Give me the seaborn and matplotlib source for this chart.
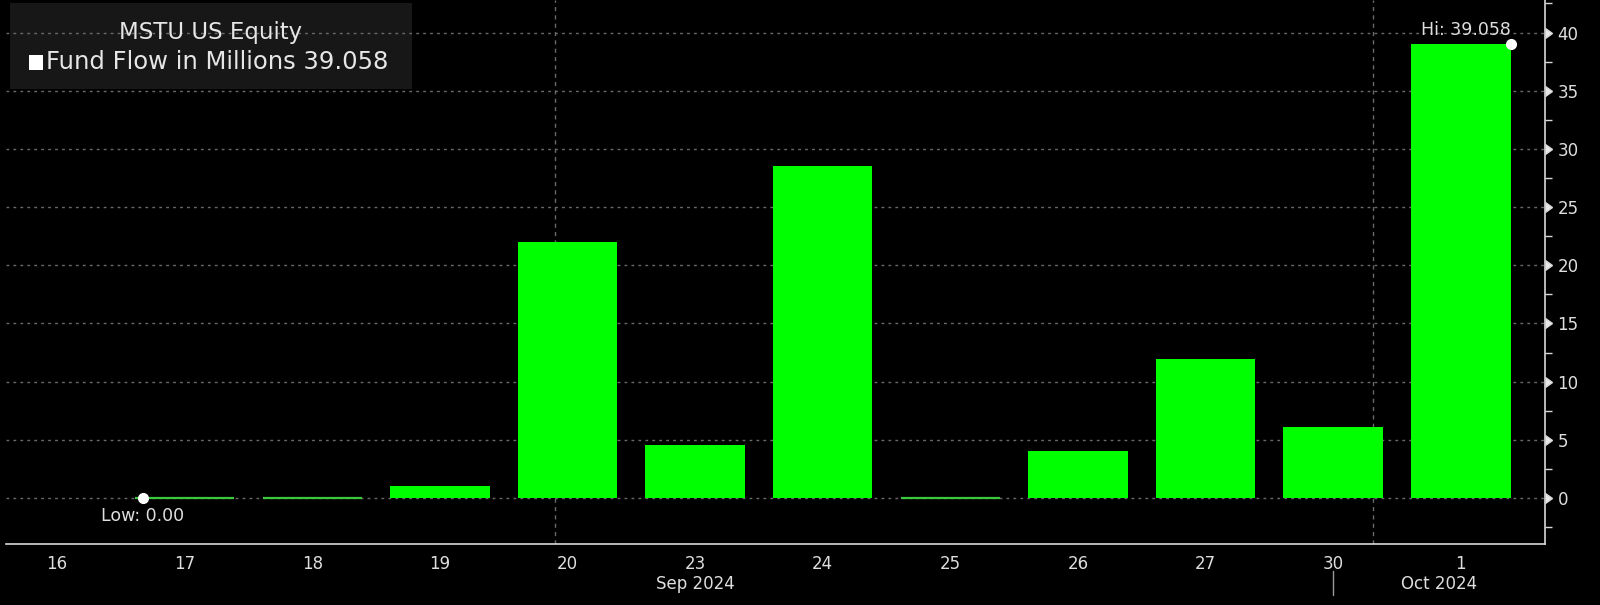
import numpy as np
import pandas as pd
import seaborn as sns
import matplotlib.pyplot as plt
import matplotlib.markers as mmarkers
from matplotlib.patches import Rectangle

# ---------------- data ----------------
tick_labels = ["16", "17", "18", "19", "20", "23", "24", "25", "26", "27", "30", "1"]
bar_dates = ["17", "18", "19", "20", "23", "24", "25", "26", "27", "30", "1"]
flows = [0.0, 0.0, 1.0, 22.0, 4.55, 28.55, 0.0, 4.0, 11.92, 6.07, 39.058]
month_labels = ["Sep 2024", "Oct 2024"]
month_label_dates = ["23", "1"]
title_text = "MSTU US Equity"
series_name = "Fund Flow in Millions"
y_major = [0, 5, 10, 15, 20, 25, 30, 35, 40]

# ---------------- style ----------------
sns.set_theme(style="dark", rc={
    "figure.facecolor": "black",
    "axes.facecolor": "black",
    "savefig.facecolor": "black",
})
plt.rcParams["font.family"] = ["DejaVu Sans"]

GREEN = "#00ff00"
TXT = "#dedede"
GRID = "#6a6a6a"
BAR_W = 0.78

fig = plt.figure(figsize=(16, 6.05), dpi=100)
ax = fig.add_axes([6 / 1600, 1 - 544 / 605, (1545 - 6) / 1600, 544 / 605])

pos = [tick_labels.index(d) for d in bar_dates]
df = pd.DataFrame({"pos": pos, "flow": flows})
sns.barplot(data=df, x="pos", y="flow", native_scale=True, width=BAR_W,
            color=GREEN, saturation=1, ax=ax, zorder=3, linewidth=0)
for p in ax.patches:
    if abs(p.get_height()) < 1e-9:
        p.set_edgecolor("#3cc83c")
        p.set_linewidth(1.6)

ax.set_xlim(-0.40, 11.66)
ax.set_ylim(-3.95, 42.8)
ax.set_xlabel("")
ax.set_ylabel("")

# grid
ax.set_axisbelow(True)
ax.set_yticks(y_major)
ax.set_yticks(np.arange(-2.5, 43, 5), minor=True)
ax.yaxis.grid(True, which="major", color=GRID, linestyle=(0, (2, 3)), linewidth=1)
ax.xaxis.grid(False)
for xv in (3.9, 10.31):
    ax.axvline(xv, color=GRID, linestyle=(0, (3, 3)), linewidth=1, zorder=1)

# axes / ticks
ax.yaxis.tick_right()
for s in ("left", "top"):
    ax.spines[s].set_visible(False)
for s in ("right", "bottom"):
    ax.spines[s].set_visible(True)
    ax.spines[s].set_color("#d8d8d8")
    ax.spines[s].set_linewidth(1.2)

ax.set_xticks(range(len(tick_labels)), tick_labels)
ax.tick_params(axis="x", which="major", direction="in", length=4, width=1,
               colors="#d8d8d8", labelcolor=TXT, labelsize=12, pad=8)
ax.tick_params(axis="y", which="major", length=6, width=1, colors="#d8d8d8",
               labelcolor=TXT, labelsize=12, pad=3, right=True, left=False)
ax.tick_params(axis="y", which="minor", length=5, width=1, colors="#d8d8d8",
               direction="out", right=True, left=False)
for t in ax.yaxis.get_major_ticks():
    t.tick2line.set_marker(mmarkers.CARETRIGHTBASE)
    t.tick2line.set_markersize(7)
    t.tick2line.set_color("#e8e8e8")

# month labels and separator
xtr = ax.get_xaxis_transform()
for lab, d in zip(month_labels, month_label_dates):
    xi = tick_labels.index(d)
    if d == "1":
        xi -= 0.17
    ax.text(xi, -40 / 544, lab, transform=xtr, ha="center", va="center",
            fontsize=12, color=TXT, clip_on=False)
ax.plot([tick_labels.index("30")] * 2, [-27 / 544, -51 / 544], transform=xtr,
        color="#9a9a9a", linewidth=1, clip_on=False)

# Hi / Low markers
i_hi = int(np.argmax(flows))
i_lo = int(np.argmin(flows))
x_hi = pos[i_hi] + BAR_W / 2
x_lo = pos[i_lo] - BAR_W / 2 + 0.06
ax.plot([x_hi], [flows[i_hi]], "o", color="white", markersize=7, zorder=6, clip_on=False)
ax.plot([x_lo], [flows[i_lo]], "o", color="white", markersize=7, zorder=6, clip_on=False)
ax.annotate(f"Hi: {flows[i_hi]:.3f}", (x_hi, flows[i_hi]), xytext=(0, 10),
            textcoords="offset points", ha="right", va="center", fontsize=12.5,
            color=TXT, zorder=7)
ax.annotate(f"Low: {flows[i_lo]:.2f}", (x_lo, flows[i_lo]), xytext=(0, -13),
            textcoords="offset points", ha="center", va="center", fontsize=12.5,
            color=TXT, zorder=7)

# legend box
box = Rectangle((10 / 1600, 1 - 89 / 605), 402 / 1600, 86 / 605,
                transform=fig.transFigure, facecolor="#171717", edgecolor="none",
                zorder=0.3, clip_on=False)
ax.add_patch(box)
fig.text(211 / 1600, 1 - 33 / 605, title_text, ha="center", va="center",
         fontsize=16.5, color="#e6e6e6")
sq = Rectangle((29 / 1600, 1 - 70 / 605), 14 / 1600, 15 / 605,
               transform=fig.transFigure, facecolor="white", edgecolor="none")
fig.add_artist(sq)
fig.text(46 / 1600, 1 - 62 / 605, f"{series_name} {max(flows):.3f}",
         ha="left", va="center", fontsize=17.5, color="#e6e6e6")

fig.savefig("out.png", dpi=100, facecolor="black")
